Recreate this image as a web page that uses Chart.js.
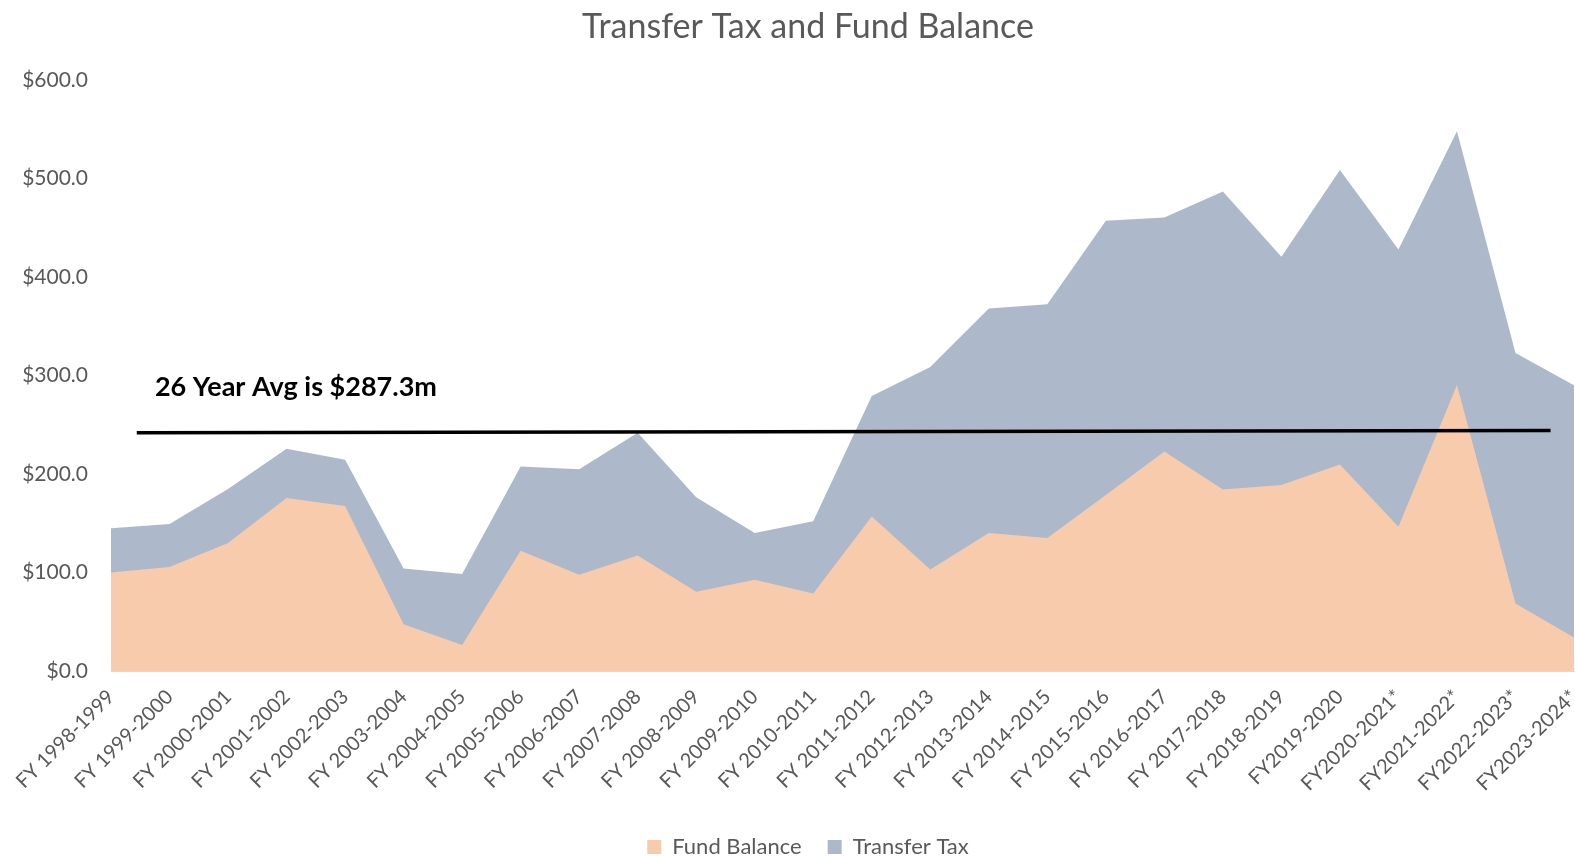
<!DOCTYPE html>
<html>
<head>
<meta charset="utf-8">
<script src="https://cdn.jsdelivr.net/npm/chart.js@4"></script>
<style>
  html, body { margin: 0; padding: 0; background: #fff; overflow: hidden; }
  body { width: 1575px; height: 856px; }
  #wrap { width: 1616px; height: 856px; position: relative; }
</style>
</head>
<body>
<div id="wrap"><canvas id="chart"></canvas></div>
<script>
const categories = [
  'FY 1998-1999', 'FY 1999-2000', 'FY 2000-2001', 'FY 2001-2002', 'FY 2002-2003',
  'FY 2003-2004', 'FY 2004-2005', 'FY 2005-2006', 'FY 2006-2007', 'FY 2007-2008',
  'FY 2008-2009', 'FY 2009-2010', 'FY 2010-2011', 'FY 2011-2012', 'FY 2012-2013',
  'FY 2013-2014', 'FY 2014-2015', 'FY 2015-2016', 'FY 2016-2017', 'FY 2017-2018',
  'FY 2018-2019', 'FY2019-2020', 'FY2020-2021*', 'FY2021-2022*', 'FY2022-2023*',
  'FY2023-2024*'
]
const fundBalance = [
  100.0, 105.5, 129.9, 175.7, 167.5, 47.5, 26.4, 122.1, 97.7, 117.3,
  80.4, 92.6, 78.6, 156.9, 103.1, 140.0, 135.0, 178.6, 222.7, 184.3,
  188.8, 209.5, 146.3, 290.3, 68.5, 33.9
]
const transferTax = [
  144.8, 149.2, 184.8, 225.5, 214.3, 104.1, 98.4, 207.5, 204.8, 241.8,
  176.3, 140.1, 152.0, 279.0, 308.4, 367.9, 372.3, 457.0, 460.3, 486.7,
  420.5, 508.5, 427.7, 547.7, 322.7, 290.0
]
// hand drawn average line in the original sits a little off the stated value
const avgLine = [
  { x: 0.44, y: 241.8 },
  { x: 24.6, y: 244.0 }
]
const avgLabel = '26 Year Avg is $287.3m'
const avgLabelAt = { x: 0.75, y: 288 }
const yTicks = [0, 100, 200, 300, 400, 500, 600]

const FONT = 'Lato, "Open Sans", sans-serif'
const GREY = '#595959'

const avgText = {
  id: 'avgText',
  afterDatasetsDraw(chart) {
    const { ctx, scales } = chart
    ctx.save()
    ctx.font = `bold 27px ${FONT}`
    ctx.fillStyle = '#000'
    ctx.textAlign = 'left'
    ctx.textBaseline = 'middle'
    ctx.fillText(avgLabel, scales.x.getPixelForValue(avgLabelAt.x), scales.y.getPixelForValue(avgLabelAt.y))
    ctx.restore()
  }
}

const toPoints = arr => arr.map((v, i) => ({ x: i, y: v }))

new Chart(document.getElementById('chart'), {
  type: 'line',
  data: {
    datasets: [
      {
        label: 'Average',
        data: avgLine,
        borderColor: '#000',
        borderWidth: 3.5,
        pointRadius: 0,
        fill: false,
        order: -1
      },
      {
        label: 'Fund Balance',
        data: toPoints(fundBalance),
        backgroundColor: '#F7CBAC',
        borderColor: '#F7CBAC',
        borderWidth: 0,
        pointRadius: 0,
        fill: 'origin',
        tension: 0
      },
      {
        label: 'Transfer Tax',
        data: toPoints(transferTax),
        backgroundColor: '#ADB9CA',
        borderColor: '#ADB9CA',
        borderWidth: 0,
        pointRadius: 0,
        fill: 'origin',
        tension: 0
      }
    ]
  },
  options: {
    responsive: true,
    maintainAspectRatio: false,
    animation: false,
    layout: { padding: { left: 0, right: 0, top: 0, bottom: -12 } },
    plugins: {
      title: {
        display: true,
        text: 'Transfer Tax and Fund Balance',
        color: GREY,
        font: { family: FONT, size: 34, weight: 'normal' },
        padding: { top: 7, bottom: 32 }
      },
      legend: {
        position: 'bottom',
        labels: {
          filter: item => item.text !== 'Average',
          color: GREY,
          font: { family: FONT, size: 22 },
          boxWidth: 14,
          boxHeight: 14,
          padding: 26
        }
      },
      tooltip: { enabled: false }
    },
    scales: {
      x: {
        type: 'linear',
        min: 0,
        max: categories.length - 1,
        grid: { display: false, drawTicks: false },
        border: { display: true, color: '#D9D9D9', width: 1 },
        afterBuildTicks: scale => { scale.ticks = categories.map((c, i) => ({ value: i })) },
        afterFit: scale => {
          scale.height = 139
          scale.paddingLeft = 0
          scale.paddingRight = 42
        },
        ticks: {
          autoSkip: false,
          minRotation: 45,
          maxRotation: 45,
          padding: 14,
          color: GREY,
          font: { family: FONT, size: 20 },
          callback: v => categories[v]
        }
      },
      y: {
        min: 0,
        max: 600,
        grid: { display: false, drawTicks: false },
        border: { display: false },
        afterBuildTicks: scale => { scale.ticks = yTicks.map(v => ({ value: v })) },
        afterFit: scale => {
          scale.width = 111
          scale.paddingTop = 0
          scale.paddingBottom = 0
        },
        ticks: {
          padding: 23,
          color: GREY,
          font: { family: FONT, size: 21 },
          callback: v => '$' + v.toFixed(1)
        }
      }
    }
  },
  plugins: [avgText]
})
</script>
</body>
</html>
